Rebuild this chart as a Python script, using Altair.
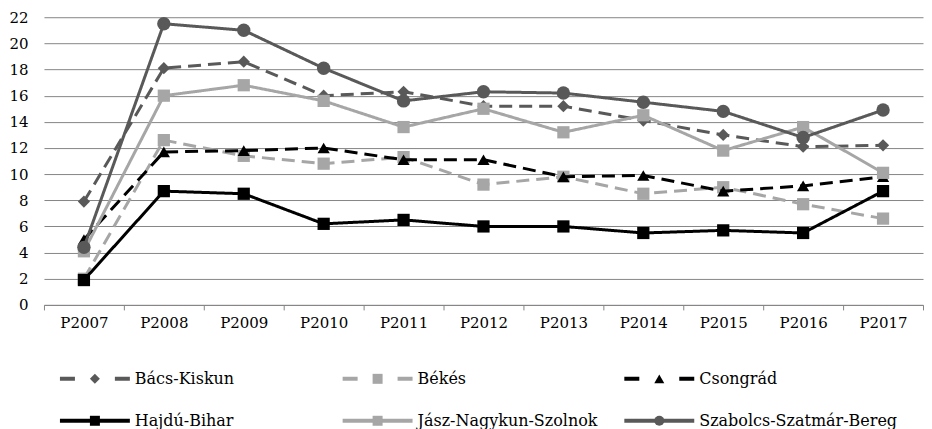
import altair as alt
import pandas as pd

years = ["P2007", "P2008", "P2009", "P2010", "P2011", "P2012",
         "P2013", "P2014", "P2015", "P2016", "P2017"]

series_names = ["Bács-Kiskun", "Békés", "Csongrád",
                "Hajdú-Bihar", "Jász-Nagykun-Szolnok", "Szabolcs-Szatmár-Bereg"]

bacs_kiskun = [7.9, 18.1, 18.6, 16.0, 16.3, 15.2, 15.2, 14.1, 13.0, 12.1, 12.2]
bekes = [2.0, 12.6, 11.4, 10.8, 11.3, 9.2, 9.8, 8.5, 9.0, 7.7, 6.6]
csongrad = [5.0, 11.7, 11.8, 12.0, 11.1, 11.1, 9.8, 9.9, 8.7, 9.1, 9.8]
hajdu_bihar = [1.9, 8.7, 8.5, 6.2, 6.5, 6.0, 6.0, 5.5, 5.7, 5.5, 8.7]
jasz = [4.1, 16.0, 16.8, 15.6, 13.6, 15.0, 13.2, 14.5, 11.8, 13.6, 10.1]
szabolcs = [4.4, 21.5, 21.0, 18.1, 15.6, 16.3, 16.2, 15.5, 14.8, 12.8, 14.9]

values = [bacs_kiskun, bekes, csongrad, hajdu_bihar, jasz, szabolcs]

colors = ["#595959", "#a6a6a6", "#000000", "#000000", "#a6a6a6", "#595959"]
dashes = [[13, 7], [13, 7], [13, 7], [1, 0], [1, 0], [1, 0]]
shapes = ["diamond", "square", "triangle-up", "square", "square", "circle"]
sizes = [150, 150, 150, 150, 150, 180]

legend_rows = [0, 0, 0, 1, 1, 1]
legend_cols = [0, 1, 2, 0, 1, 2]
legend_col_start = [16, 299, 581]  # legend layout (px inside legend panel)

FONT = "DejaVu Serif"
GRID = "#868686"
W = 880

x_enc = alt.X(
    "year:N", sort=years, title=None,
    scale=alt.Scale(type="band", paddingInner=0, paddingOuter=0),
    axis=alt.Axis(labelAngle=0, tickBand="extent", tickSize=5, tickColor=GRID,
                  domainColor=GRID, labelPadding=6, labelFont=FONT, labelFontSize=15,
                  labelColor="#000000", grid=False),
)
y_enc = alt.Y(
    "value:Q", title=None,
    scale=alt.Scale(domain=[0, 22], nice=False),
    axis=alt.Axis(values=list(range(0, 23, 2)), ticks=False, tickSize=0, domain=False,
                  labelPadding=16, labelFont=FONT, labelFontSize=15, labelColor="#000000",
                  grid=True, gridColor=GRID, gridWidth=1),
)

layers = []
for i, name in enumerate(series_names):
    df = pd.DataFrame({"year": years, "value": values[i], "series": name})
    base = alt.Chart(df).encode(x=x_enc, y=y_enc)
    line = base.mark_line(color=colors[i], strokeWidth=3, strokeDash=dashes[i])
    pts = base.mark_point(shape=shapes[i], filled=True, color=colors[i], size=sizes[i], opacity=1)
    layers += [line, pts]

main = alt.layer(*layers).properties(width=W, height=288)

# legend panel
leg = pd.DataFrame({
    "series": series_names,
    "row": legend_rows,
    "x0": [legend_col_start[c] for c in legend_cols],
})
leg["x1"] = leg["x0"] + 70
leg["xm"] = leg["x0"] + 35
leg["xt"] = leg["x0"] + 75

lx = alt.Scale(domain=[0, W], nice=False, zero=False)
ly = alt.Scale(domain=[0, 1], reverse=True, nice=False, zero=False)

leg_layers = []
for i, name in enumerate(series_names):
    d = leg[leg["series"] == name]
    b = alt.Chart(d)
    dash = [15, 40, 15] if dashes[i][1] > 0 else [1, 0]
    leg_layers.append(b.mark_rule(color=colors[i], strokeWidth=4, strokeDash=dash).encode(
        x=alt.X("x0:Q", scale=lx, axis=None), x2="x1:Q",
        y=alt.Y("row:Q", scale=ly, axis=None)))
    leg_layers.append(b.mark_point(shape=shapes[i], filled=True, color=colors[i], size=100, opacity=1).encode(
        x=alt.X("xm:Q", scale=lx, axis=None), y=alt.Y("row:Q", scale=ly, axis=None)))
    leg_layers.append(b.mark_text(align="left", baseline="middle", font=FONT, fontSize=16, color="#000000").encode(
        x=alt.X("xt:Q", scale=lx, axis=None), y=alt.Y("row:Q", scale=ly, axis=None), text="series:N"))

legend = alt.layer(*leg_layers).properties(width=W, height=42)

chart = alt.vconcat(main, legend, spacing=40).properties(
    padding={"left": 0, "top": 2, "right": 0, "bottom": 0}
).configure_view(stroke=None)

chart.save("out.html", embed_options={"renderer": "svg", "actions": False})
